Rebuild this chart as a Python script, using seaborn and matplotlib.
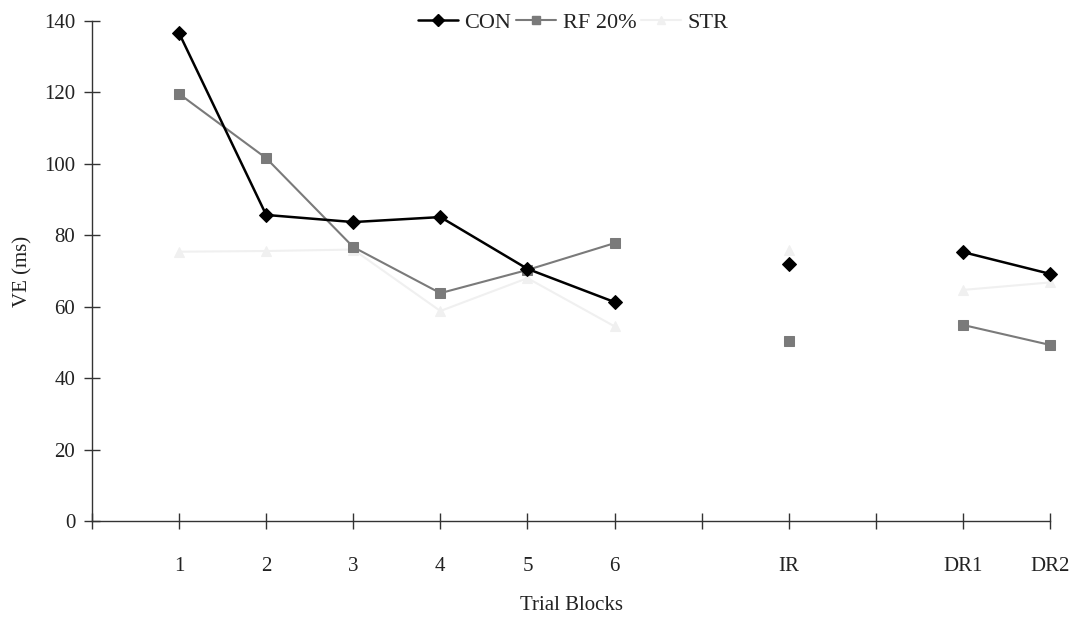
import numpy as np
import pandas as pd
import seaborn as sns
import matplotlib
matplotlib.use("Agg")
import matplotlib.pyplot as plt

# ---- data ----
categories = ["1", "2", "3", "4", "5", "6", "", "IR", "", "DR1", "DR2"]
con = [136.6, 85.7, 83.7, 85.1, 70.6, 61.3, None, 72.0, None, 75.3, 69.2]
rf20 = [119.6, 101.6, 76.7, 63.8, 70.3, 77.8, None, 50.4, None, 54.9, 49.3]
strv = [75.4, 75.6, 76.0, 58.8, 68.0, 54.5, None, 75.9, None, 64.7, 66.8]
series_names = ["CON", "RF 20%", "STR"]
y_ticks = [0, 20, 40, 60, 80, 100, 120, 140]

rows = []
for name, vals in zip(series_names, [con, rf20, strv]):
    seg = 0
    for i, v in enumerate(vals):
        if v is None:
            seg += 1
            continue
        rows.append({"series": name, "pos": i, "value": v, "seg": seg})
df = pd.DataFrame(rows)

sns.set_style("white")
plt.rcParams["font.family"] = ["Liberation Serif", "DejaVu Serif"]

fig = plt.figure(figsize=(10.77, 6.17), dpi=100)
ax = fig.add_axes([92 / 1077, 1 - 521 / 617, (1050 - 92) / 1077, 500 / 617])

styles = {
    "CON": dict(color="black", marker="D", markersize=7, linewidth=1.8),
    "RF 20%": dict(color="#7a7a7a", marker="s", markersize=7, linewidth=1.5),
    "STR": dict(color="#f0f0f0", marker="^", markersize=7, linewidth=1.5),
}

handles = {}
for name in ["STR", "RF 20%", "CON"]:
    sub = df[df.series == name]
    st = styles[name]
    for s, g in sub.groupby("seg"):
        sns.lineplot(data=g, x="pos", y="value", ax=ax, color=st["color"],
                     marker=st["marker"], markersize=st["markersize"],
                     linewidth=st["linewidth"], markeredgecolor=st["color"],
                     estimator=None, sort=False, legend=False, clip_on=False)
    handles[name] = plt.Line2D([], [], color=st["color"], marker=st["marker"],
                               markersize=st["markersize"] - 1,
                               linewidth=st["linewidth"], markeredgecolor=st["color"])

ax.set_xlim(-1, 10)
ax.set_ylim(0, 140)
ax.set_xticks(list(range(-1, 11)))
ax.set_xticklabels([""] + categories)
ax.set_yticks(y_ticks)
ax.set_yticklabels([str(t) for t in y_ticks])
for side in ["top", "right"]:
    ax.spines[side].set_visible(False)
for side in ["left", "bottom"]:
    ax.spines[side].set_color("#333333")
    ax.spines[side].set_linewidth(1.0)
ax.tick_params(axis="both", direction="inout", length=12, width=1.0,
               color="#333333", labelsize=15, labelcolor="#222222",
               bottom=True, left=True)
ax.tick_params(axis="x", pad=20)
ax.tick_params(axis="y", pad=6)
ax.set_xlabel("Trial Blocks", fontsize=15, color="#222222", labelpad=14)
ax.set_ylabel("VE (ms)", fontsize=15, color="#222222", labelpad=8)

fig.legend([handles[n] for n in series_names], series_names, loc="center",
           bbox_to_anchor=(573 / 1077, 1 - 23 / 617), ncol=3, frameon=False,
           fontsize=16, handlelength=1.8, handletextpad=0.3, columnspacing=0.2,
           labelcolor="#222222")

fig.savefig("out.png", dpi=100)
